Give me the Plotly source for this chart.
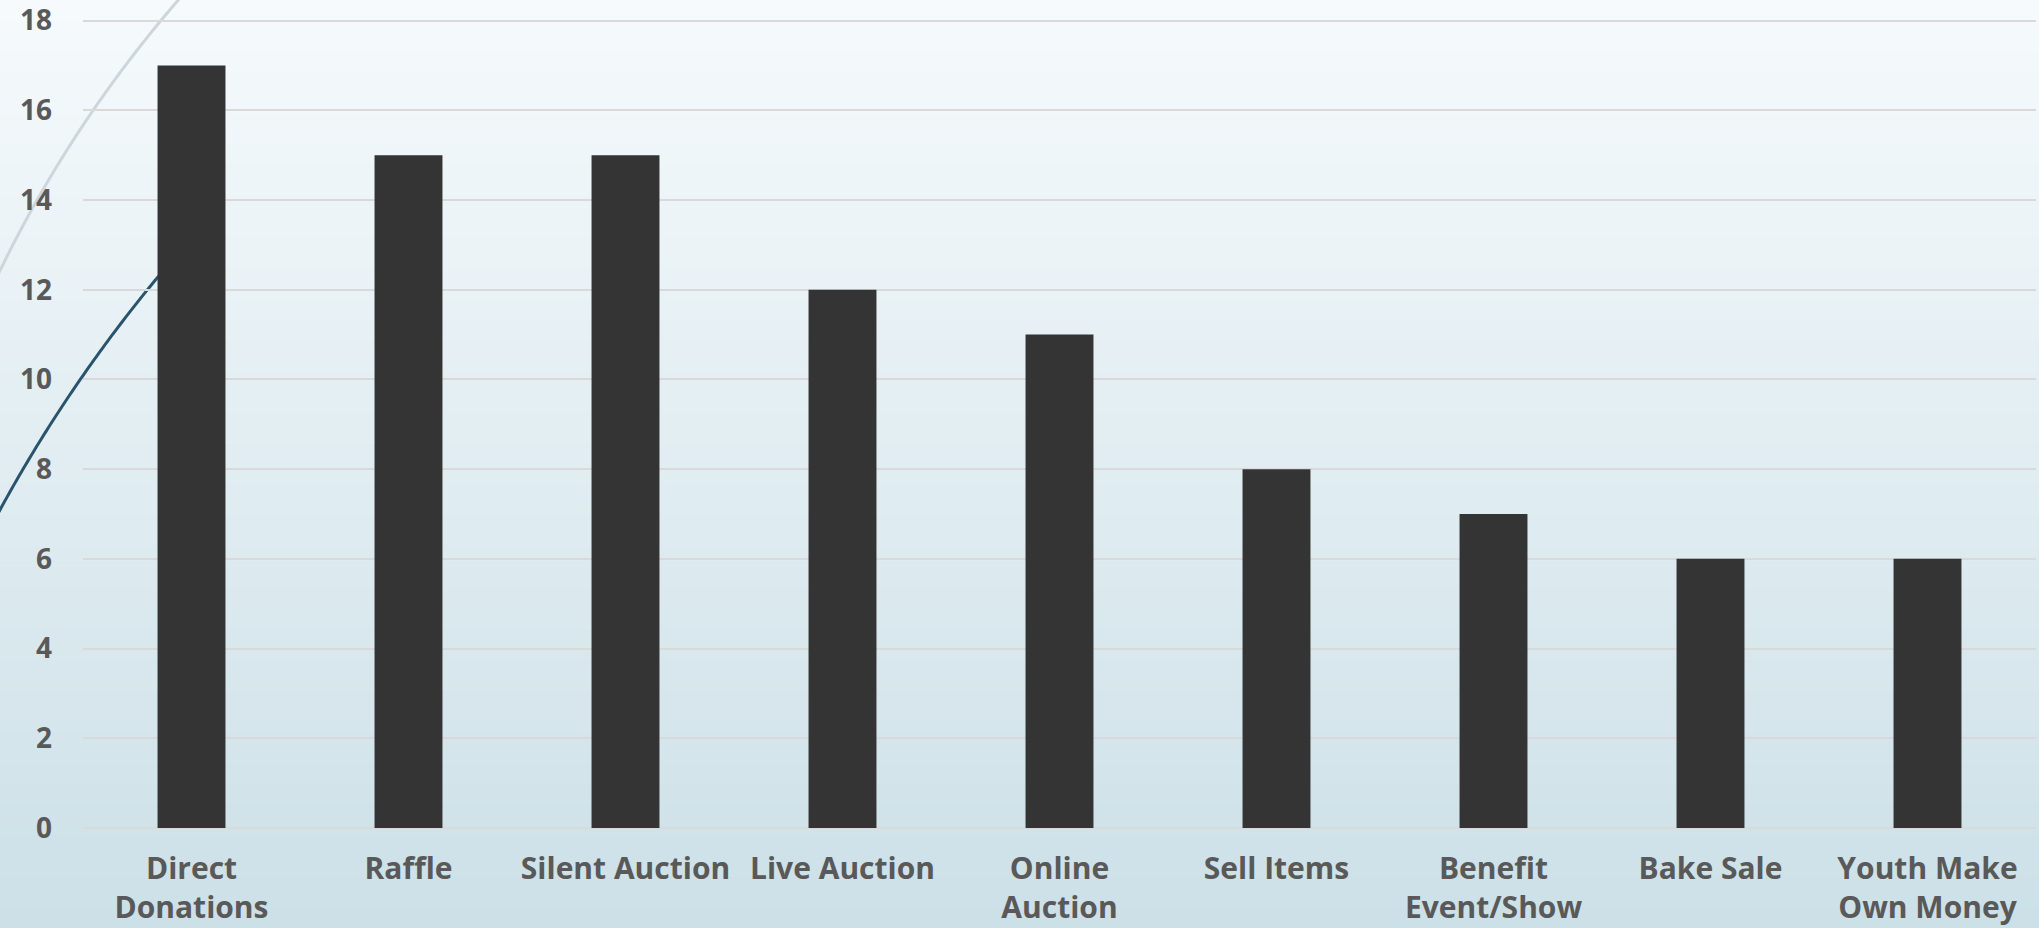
import math
import plotly.graph_objects as go

categories = ["Direct<br>Donations", "Raffle", "Silent Auction", "Live Auction",
              "Online<br>Auction", "Sell Items", "Benefit<br>Event/Show",
              "Bake Sale", "Youth Make<br>Own Money"]
values = [17, 15, 15, 12, 11, 8, 7, 6, 6]
y_ticks = [0, 2, 4, 6, 8, 10, 12, 14, 16, 18]

W, H = 2039, 928
ML, MR, MT, MB = 83, 3, 17, 100
PW = W - ML - MR
PH = H - MT - MB


def px2paper(px, py):
    return (px - ML) / PW, (H - MB - py) / PH


shapes = []
# background vertical gradient (decoration)
top_c = (246, 250, 252)
bot_c = (204, 224, 231)
N = 90
for i in range(N):
    t = (i + 0.5) / N
    c = tuple(round(top_c[k] + (bot_c[k] - top_c[k]) * t) for k in range(3))
    ya = -6 if i == 0 else H * i / N
    yb = H + 6 if i == N - 1 else H * (i + 1) / N + 1
    x0, y0 = px2paper(-6, ya)
    x1, y1 = px2paper(W + 6, yb)
    shapes.append(dict(type="rect", xref="paper", yref="paper", x0=x0, x1=x1,
                       y0=y1, y1=y0, fillcolor="rgb(%d,%d,%d)" % c,
                       line=dict(width=0), layer="below"))


def arc_path(cx, cy, r, a0, a1, n=80):
    pts = []
    for i in range(n + 1):
        a = math.radians(a0 + (a1 - a0) * i / n)
        pts.append(px2paper(cx + r * math.cos(a), cy + r * math.sin(a)))
    d = "M %f,%f" % pts[0]
    for p in pts[1:]:
        d += " L %f,%f" % p
    return d


# decorative template arcs
shapes.append(dict(type="path", xref="paper", yref="paper",
                   path=arc_path(1110.6, 808.5, 1234.0, 223, 203),
                   line=dict(color="rgb(204,214,220)", width=3), layer="below"))
shapes.append(dict(type="path", xref="paper", yref="paper",
                   path=arc_path(1282.5, 1209.6, 1461.0, 221, 206),
                   line=dict(color="#2a546b", width=3), layer="below"))

font_fam = "'Open Sans', 'Noto Sans', sans-serif"
tick_font = dict(family=font_fam, size=30, color="#595959", weight="bold")

fig = go.Figure(go.Bar(x=categories, y=values,
                       marker=dict(color="#343434", line=dict(width=0)),
                       width=0.313))

fig.update_layout(
    width=W, height=H,
    margin=dict(l=ML, r=MR, t=MT, b=MB, autoexpand=False),
    paper_bgcolor="rgb(230,239,243)",
    plot_bgcolor="rgba(0,0,0,0)",
    shapes=shapes,
    showlegend=False,
    font=dict(family=font_fam, size=30, color="#595959"),
)
fig.update_xaxes(showgrid=False, showline=False, ticks="", tickangle=0, automargin=False,
                 tickfont=tick_font, range=[-0.5, 8.5], ticklabelstandoff=20)
fig.update_yaxes(range=[0, 18.08], tickvals=y_ticks, showgrid=True, gridcolor="#d9d9d9",
                 gridwidth=2, zeroline=True, zerolinecolor="#d9d9d9", zerolinewidth=2,
                 showline=False, ticks="", ticklabelstandoff=30, automargin=False,
                 tickfont=dict(family=font_fam, size=28, color="#595959", weight="bold"))

fig.write_html("out.html", config={"displayModeBar": False},
               post_script="document.body.style.margin='0';")
